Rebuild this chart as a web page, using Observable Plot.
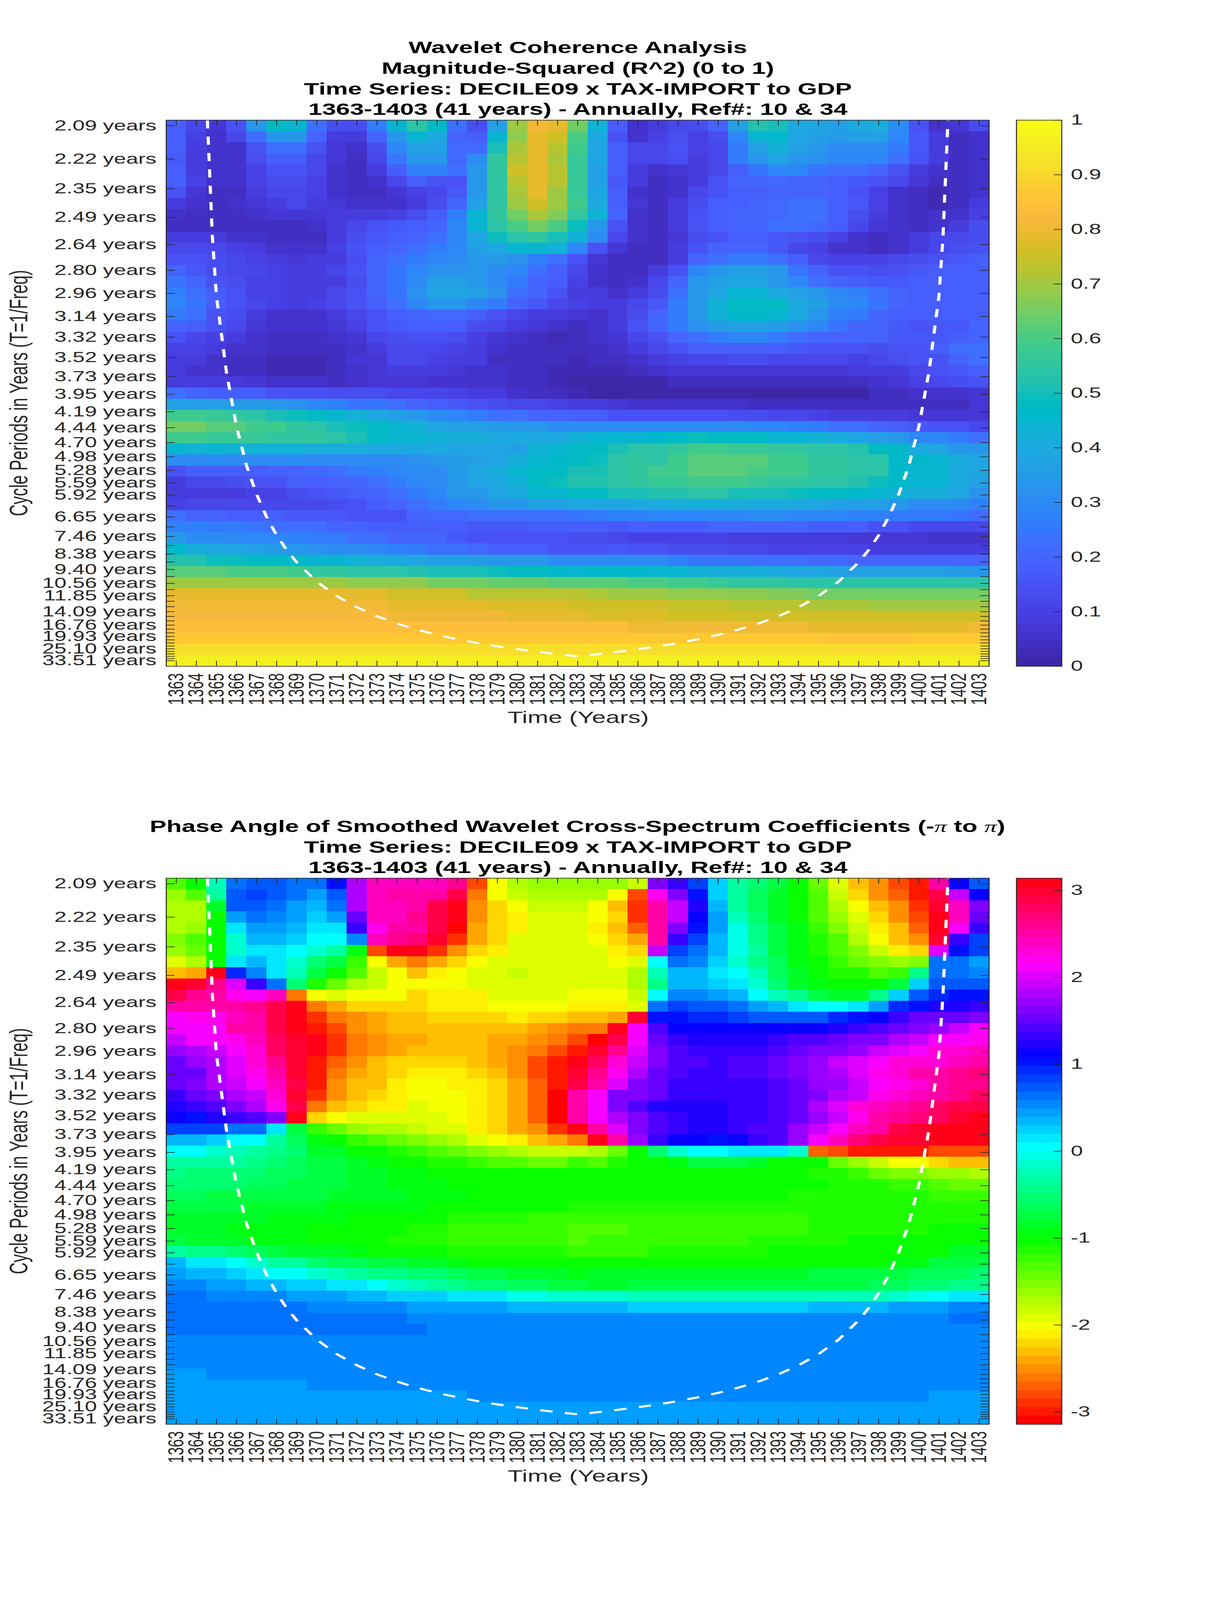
<!DOCTYPE html>
<html><head><meta charset="utf-8">
<script src="https://cdn.jsdelivr.net/npm/d3@7"></script>
<script src="https://cdn.jsdelivr.net/npm/@observablehq/plot@0.6"></script>
<style>
html,body{margin:0;background:#fff}
#c{position:relative;width:3125px;height:6252px;font-family:"Liberation Sans",Arial,sans-serif;color:#262626;overflow:hidden;background:#fff;transform-origin:0 0}
.t{position:absolute;white-space:nowrap;line-height:normal}
#c svg{position:absolute}
</style></head><body><div id="c"></div>
<script>
const years=[1363,1364,1365,1366,1367,1368,1369,1370,1371,1372,1373,1374,1375,1376,1377,1378,1379,1380,1381,1382,1383,1384,1385,1386,1387,1388,1389,1390,1391,1392,1393,1394,1395,1396,1397,1398,1399,1400,1401,1402,1403];
const periods=[2.09,2.22,2.35,2.49,2.64,2.80,2.96,3.14,3.32,3.52,3.73,3.95,4.19,4.44,4.70,4.98,5.28,5.59,5.92,6.27,6.65,7.04,7.46,7.91,8.38,8.88,9.40,9.96,10.56,11.18,11.85,12.55,13.30,14.09,14.93,15.82,16.76,17.75,18.81,19.93,21.11,22.37,23.70,25.10,26.60,28.18,29.85,31.63,33.51];
const labelledPeriods=[2.09,2.22,2.35,2.49,2.64,2.80,2.96,3.14,3.32,3.52,3.73,3.95,4.19,4.44,4.70,4.98,5.28,5.59,5.92,6.65,7.46,8.38,9.40,10.56,11.85,14.09,16.76,19.93,25.10,33.51];
const coiYears=[1364.55,1364.8,1365,1365.5,1366,1366.5,1367,1367.5,1368,1368.5,1369,1370,1371,1372,1373,1374,1375,1376,1377,1378,1379,1380,1381,1382,1383,1384,1385,1386,1387,1388,1389,1390,1391,1392,1393,1394,1395,1396,1397,1397.5,1398,1398.5,1399,1399.5,1400,1400.5,1401,1401.2,1401.45];
const coiPeriods=[2.07,2.6,2.98,3.68,4.42,5.17,5.9,6.65,7.4,8.15,8.9,10.4,11.9,13.4,14.9,16.4,17.9,19.4,20.9,22.4,23.9,25.3,26.8,28.3,29.8,28.3,26.8,25.3,23.9,22.4,20.9,19.4,17.9,16.4,14.9,13.4,11.9,10.4,8.9,8.15,7.4,6.65,5.9,5.17,4.42,3.68,2.98,2.6,2.07];
const coherence=[
[18,11,7,15,34,48,45,23,13,13,26,45,54,47,22,13,36,70,80,78,65,42,17,5,8,12,13,20,36,52,50,40,38,36,39,41,30,14,5,7,13],
[18,10,5,11,23,34,34,20,9,9,19,33,44,39,20,17,44,68,78,75,60,39,15,5,10,13,10,13,28,44,46,38,36,35,36,36,28,16,8,4,5],
[17,9,5,6,15,22,22,14,7,5,13,28,37,37,21,21,50,71,78,72,59,38,17,11,12,14,10,12,25,37,42,37,34,31,31,31,26,16,8,4,5],
[16,9,5,6,13,17,17,12,7,4,12,24,34,33,21,30,55,72,79,71,57,38,17,11,12,13,9,11,25,34,38,34,32,29,29,28,23,15,8,4,5],
[17,9,5,5,10,15,15,11,6,4,9,17,27,27,23,33,56,75,79,72,57,37,17,8,6,7,8,12,18,24,28,28,24,23,22,20,14,9,6,4,5],
[17,10,5,5,10,13,13,10,5,3,5,12,18,15,15,33,56,73,79,72,57,37,16,8,4,5,8,14,19,20,21,20,19,17,16,15,11,7,4,3,5],
[15,7,4,4,8,11,12,10,6,3,3,7,10,11,16,33,56,71,79,70,57,38,17,5,3,6,12,15,17,18,20,20,20,18,15,10,5,3,2,3,5],
[9,5,4,5,7,9,11,9,7,5,5,6,8,13,19,37,56,70,75,70,58,40,18,7,3,8,13,17,18,19,21,22,22,18,16,10,6,3,2,4,8],
[5,3,3,3,5,7,7,7,8,9,9,10,13,17,27,44,56,65,71,66,56,42,20,6,3,8,14,18,19,20,21,23,22,17,13,8,5,3,5,6,10],
[4,4,4,3,3,3,3,5,9,12,15,16,18,20,28,44,53,60,65,60,49,33,15,6,3,8,14,18,20,20,22,22,21,18,12,7,5,3,5,8,13],
[9,9,8,6,5,3,3,4,9,13,16,18,20,23,28,38,49,53,55,50,42,30,12,5,3,7,13,15,18,17,16,15,13,10,5,4,5,8,11,12,13],
[11,11,12,10,8,6,5,6,10,14,18,19,22,25,29,36,40,44,44,42,29,15,7,3,3,9,15,19,20,19,16,12,10,6,5,3,5,8,11,13,14],
[15,14,13,11,10,9,7,8,9,13,19,22,25,29,31,33,35,32,27,22,15,7,3,3,4,9,19,23,26,26,23,18,12,10,10,10,12,13,15,16,17],
[19,16,13,11,11,10,8,9,11,14,19,24,29,32,32,33,30,28,22,18,12,6,3,4,8,14,28,33,36,36,33,24,20,14,14,13,14,16,17,17,18],
[24,19,15,13,10,10,8,8,9,13,20,24,31,37,37,33,30,25,20,17,10,6,4,5,12,20,33,37,38,38,34,29,22,19,17,16,16,17,17,17,18],
[27,22,18,14,10,10,8,9,12,14,19,24,32,38,38,37,32,23,19,14,9,8,5,8,13,22,33,38,44,44,39,36,33,28,27,22,19,18,17,17,17],
[29,24,18,14,11,10,8,10,12,14,18,23,28,34,34,29,25,20,16,12,10,8,8,11,16,25,34,42,47,47,47,39,37,30,28,24,19,17,17,17,17],
[26,22,15,13,9,6,6,6,9,12,15,18,20,21,21,17,14,12,9,8,7,6,9,13,19,26,34,42,46,46,44,39,34,27,26,20,17,17,17,17,17],
[20,17,14,11,7,5,5,5,7,10,14,16,18,18,17,13,11,9,7,5,4,5,8,14,20,25,32,35,37,37,35,32,28,24,20,19,16,15,16,16,19],
[15,12,10,8,5,4,4,4,5,7,12,13,14,14,13,10,7,5,3,2,4,5,7,11,15,19,23,25,29,29,25,22,20,20,20,19,16,16,16,18,20],
[10,10,8,6,5,3,3,3,4,5,8,11,11,11,10,8,5,4,3,3,3,4,6,9,11,14,18,18,18,17,17,16,15,14,14,13,14,14,17,22,23],
[8,8,5,4,3,2,2,2,3,7,7,11,11,10,9,8,4,3,3,3,2,3,4,6,8,10,12,12,13,13,12,11,11,11,10,12,13,14,15,19,22],
[8,5,5,4,3,2,2,2,3,5,7,9,8,8,7,6,5,4,3,2,2,2,2,4,5,7,7,7,7,7,7,7,7,7,8,9,9,12,14,16,18],
[9,8,8,8,7,5,5,5,4,5,7,7,7,6,5,5,5,4,3,2,1,1,1,1,1,3,3,3,3,3,3,3,3,3,4,5,7,10,12,13,14],
[22,19,18,17,17,14,14,14,13,13,13,12,12,11,10,9,8,5,4,3,2,1,1,1,1,1,1,1,1,1,1,1,1,1,1,3,4,5,5,6,7],
[37,37,37,35,35,33,32,29,27,24,24,22,20,17,16,15,13,12,11,10,9,8,7,5,5,5,5,5,6,4,4,4,3,3,3,4,4,3,3,3,7],
[59,59,57,55,53,51,49,47,45,42,39,36,34,31,28,25,22,22,20,19,18,17,15,15,15,15,15,15,13,13,12,12,10,9,9,8,8,7,7,7,7],
[64,64,62,62,59,58,55,53,51,49,47,44,43,38,37,36,35,33,33,30,30,31,30,31,31,30,30,30,30,28,28,27,25,23,22,20,18,16,15,15,12],
[58,58,57,57,57,55,55,55,53,50,47,45,45,42,41,41,40,40,40,40,42,44,45,45,46,48,49,48,48,47,45,45,42,41,38,37,34,29,28,26,22],
[45,43,44,43,43,42,42,41,41,41,40,40,39,39,38,38,38,37,42,44,47,47,50,53,54,56,58,58,57,57,56,56,54,53,52,47,46,40,38,34,33],
[30,30,30,30,30,30,31,31,31,31,31,31,32,33,35,37,38,41,45,46,48,49,53,55,54,58,61,61,61,61,58,59,56,55,54,53,46,46,44,41,38],
[15,17,17,18,18,20,20,21,22,25,27,28,30,31,35,38,41,44,47,48,51,51,54,56,58,59,61,61,61,60,59,58,56,55,54,53,46,44,44,40,38],
[9,11,11,13,14,15,17,18,19,20,23,25,28,30,33,38,40,43,47,49,52,52,53,56,57,57,58,58,58,57,56,55,54,53,52,49,46,45,44,39,37],
[8,8,9,9,10,10,13,14,16,18,19,23,25,28,33,34,38,39,44,45,47,48,50,50,52,52,53,53,51,51,50,49,48,47,46,44,42,41,41,38,32],
[10,11,11,11,11,12,12,12,13,14,17,19,22,26,28,30,33,33,36,37,38,38,38,39,40,41,41,41,41,40,40,39,38,37,37,36,34,31,30,30,27],
[23,20,20,18,17,18,16,16,16,15,15,15,20,21,21,22,22,22,23,23,24,25,27,27,28,28,29,29,29,30,30,29,28,28,27,27,26,25,25,24,21],
[27,27,25,25,24,23,23,22,20,20,18,18,18,17,17,16,16,16,17,17,17,17,16,18,18,18,18,19,19,19,19,19,18,18,17,15,14,12,12,12,12],
[35,31,30,29,29,28,27,26,26,23,22,20,20,19,16,15,15,14,14,14,13,13,12,10,10,10,10,10,9,9,9,8,8,8,7,7,7,7,5,5,5],
[46,41,39,38,37,35,34,32,31,31,28,27,26,23,22,21,18,17,17,15,15,15,16,15,15,13,13,13,12,12,10,10,10,10,10,9,9,9,9,8,8],
[52,52,49,49,47,47,46,45,44,43,41,39,38,37,36,35,34,33,33,30,30,31,31,30,30,27,24,24,24,22,22,22,21,21,20,20,20,20,20,20,20],
[61,61,61,60,60,60,58,55,55,54,54,53,52,51,50,50,49,48,48,46,45,46,46,46,45,45,42,41,41,41,39,38,38,37,37,37,36,37,36,35,33],
[70,70,70,70,70,69,69,69,69,68,67,67,67,65,65,65,63,63,63,62,62,61,61,60,60,58,58,57,56,56,55,54,54,53,53,53,53,53,53,53,53],
[78,78,78,78,78,78,78,78,78,78,78,75,75,75,75,73,73,73,72,72,72,71,70,70,70,68,68,68,67,67,66,66,65,65,65,65,65,65,65,65,65],
[81,81,81,81,81,81,81,81,81,81,81,79,79,79,79,79,77,77,77,77,75,75,75,75,75,74,74,74,73,73,73,72,71,71,71,70,70,70,70,70,70],
[82,82,82,82,82,82,82,82,82,82,82,80,80,80,80,80,80,78,78,78,78,77,77,77,77,76,76,76,76,76,76,75,75,75,75,75,75,75,75,75,75],
[84,84,84,84,84,84,84,84,84,84,84,84,84,84,84,84,84,84,83,83,83,83,83,80,80,80,80,80,80,80,80,80,79,79,79,79,79,79,79,79,81],
[86,86,86,86,86,86,86,86,86,86,86,86,86,86,86,86,86,86,86,86,86,86,86,86,86,86,86,86,86,86,86,86,86,85,85,85,85,86,86,86,86],
[91,91,91,91,91,91,91,91,91,91,91,91,91,91,91,91,91,91,91,91,91,91,91,91,91,91,91,91,91,91,91,91,91,91,91,91,91,91,91,91,91],
[96,96,96,96,96,96,96,96,96,96,96,96,96,96,96,96,96,96,96,96,96,96,96,96,96,96,96,96,96,96,96,96,96,96,96,96,96,96,96,96,96]
];
const phase=[
[-1.3,-1.05,-.2,.6,.7,.7,.6,.6,1,1.8,2.4,2.4,2.4,2.4,2.6,-2.8,-2,-1.75,-1.65,-1.65,-1.6,-1.6,-1.6,-1.85,1.65,1.3,.8,.2,-.3,-.55,-.75,-1.05,-1.45,-1.9,-2.3,-2.5,-2.75,-3,2.5,1.1,.75],
[-1.6,-1.35,-.3,.7,.85,.7,.6,.4,.75,1.8,2.4,2.55,2.55,2.55,2.85,-2.6,-2.05,-1.85,-1.7,-1.7,-1.7,-1.7,-2,-2.8,2.2,1.65,1.05,.2,-.3,-.6,-.85,-1,-1.35,-1.85,-2.2,-2.5,-2.7,-3,2.85,1.9,1.15],
[-1.75,-1.7,-.8,.7,.7,.6,.45,.35,.6,1.8,2.4,2.4,2.55,2.85,3.1,-2.5,-2.2,-2,-1.8,-1.8,-1.85,-2,-2.3,-2.9,2.55,1.9,1.25,.35,-.3,-.6,-.85,-1,-1.35,-1.7,-2.05,-2.35,-2.5,-2.85,3,2.4,1.6],
[-1.7,-1.7,-1,.4,.65,.55,.4,.25,.4,1.55,2.4,2.45,2.6,2.85,3.14,-2.5,-2.2,-2.1,-1.95,-1.95,-1.95,-2.05,-2.25,-2.9,2.55,1.9,1.1,.4,-.2,-.55,-.85,-1.05,-1.3,-1.6,-1.95,-2.25,-2.5,-2.8,3.05,2.45,1.55],
[-1.7,-1.65,-1.05,.1,.4,.4,.3,.15,.15,1.35,2.2,2.5,2.55,2.9,-3.05,-2.45,-2.25,-2.1,-1.95,-1.95,-1.95,-2.1,-2.3,-2.7,2.55,1.65,1.05,.4,-.05,-.4,-.75,-.95,-1.2,-1.5,-1.85,-2.15,-2.35,-2.7,3.1,2.1,1.35],
[-1.55,-1.35,-1.05,-.1,.3,.3,.2,.05,0,.55,2.45,2.6,2.7,3,-2.85,-2.4,-2.2,-1.95,-1.95,-1.95,-1.95,-2,-2.2,-2.45,2.55,1.3,.85,.3,-.05,-.4,-.7,-.9,-1.1,-1.35,-1.7,-2,-2.3,-2.5,3,1.3,.85],
[-1.6,-1.4,-1,-.1,.15,.15,0,-.1,-.35,-.9,-2.75,3.05,3.05,-2.9,-2.5,-2.2,-2.1,-1.95,-1.95,-1.95,-1.95,-1.95,-2.1,-2.2,1.9,.85,.65,.35,-.05,-.35,-.7,-.95,-1.1,-1.3,-1.55,-1.85,-2.1,-2.25,2,1.05,.8],
[-1.9,-1.7,-1.05,.1,.35,.15,-.1,-.5,-.75,-1.2,-2,-2.45,-2.6,-2.45,-2.25,-2.05,-1.95,-1.95,-1.95,-1.95,-1.95,-1.95,-2,-1.95,0,.6,.5,.2,-.1,-.4,-.65,-.9,-1.05,-1.25,-1.4,-1.55,-1.65,-1.5,.6,.6,.45],
[-2.35,-2.45,3.14,.9,.5,.15,-.25,-.75,-1.05,-1.35,-1.85,-2.05,-2.3,-2.15,-2.05,-1.95,-1.95,-1.85,-1.95,-1.95,-1.95,-1.95,-1.95,-1.75,-.2,.35,.35,.15,0,-.25,-.6,-.85,-1,-1.15,-1.15,-1.3,-1.2,-.45,.6,.6,.5],
[3.14,2.95,2.6,2,1.35,.6,-.55,-1.15,-1.4,-1.7,-1.85,-2.05,-2.05,-2.05,-2.05,-1.95,-1.95,-1.95,-1.95,-1.95,-1.95,-1.95,-1.95,-1.75,-.4,.35,.35,.25,.1,-.15,-.5,-.8,-.95,-1.05,-1.05,-1.05,-.75,.25,.7,.75,.7],
[2.85,2.6,2.55,2.2,2.1,2.4,-2.65,-2.05,-1.9,-2.05,-2.05,-2.05,-2.2,-2.1,-2.1,-2.1,-1.95,-1.95,-1.95,-1.95,-2.05,-2.05,-2.05,-1.85,0,.5,.5,.4,.3,0,-.25,-.45,-.7,-.85,-.85,-.4,.2,.7,.9,1.05,1.05],
[2.55,2.55,2.55,2.55,2.6,2.85,3.14,-2.6,-2.4,-2.25,-2.25,-2.25,-2.25,-2.15,-2.15,-2.15,-2.05,-2.05,-2.05,-2.05,-2.15,-2.15,-2.15,-1.95,.6,.85,.75,.75,.6,.4,.3,.1,0,0,.15,.45,.95,1.05,1.2,1.25,1.35],
[2.15,2.2,2.2,2.45,2.55,2.85,3.1,-2.85,-2.6,-2.5,-2.4,-2.3,-2.3,-2.2,-2.2,-2.2,-2.2,-2.15,-2.25,-2.25,-2.35,-2.3,-2.4,3,1.05,1,.95,.95,.85,.75,.7,.7,.75,.9,1.05,1.15,1.3,1.5,1.5,1.55,1.6],
[2.1,2.15,2.15,2.5,2.55,2.85,3.05,-3,-2.8,-2.5,-2.45,-2.35,-2.35,-2.35,-2.35,-2.35,-2.35,-2.35,-2.45,-2.55,-2.65,-2.65,3.14,2.15,1.4,1.15,1.1,1.1,1.1,1.1,1.1,1.1,1.1,1.2,1.3,1.4,1.5,1.6,1.75,1.9,2.1],
[1.95,2.1,2.15,2.25,2.4,2.75,3,3.14,-2.85,-2.6,-2.5,-2.4,-2.4,-2.35,-2.35,-2.35,-2.4,-2.45,-2.5,-2.6,-2.8,-3.05,2.85,2.1,1.55,1.35,1.25,1.25,1.25,1.25,1.35,1.4,1.4,1.5,1.6,1.6,1.8,1.9,2.1,2.1,2.2],
[1.75,1.8,1.95,2.15,2.3,2.75,3,3.1,-2.85,-2.65,-2.5,-2.4,-2.3,-2.3,-2.3,-2.3,-2.4,-2.5,-2.65,-2.8,-3,3,2.6,2,1.6,1.45,1.35,1.35,1.35,1.35,1.45,1.55,1.6,1.65,1.75,1.9,2,2.15,2.3,2.3,2.45],
[1.55,1.7,1.85,2,2.3,2.6,2.95,-3,-2.7,-2.5,-2.35,-2.25,-2.2,-2.2,-2.2,-2.35,-2.45,-2.55,-2.8,-2.95,3.05,2.75,2.3,1.9,1.65,1.4,1.4,1.3,1.4,1.4,1.55,1.65,1.75,1.9,2,2.1,2.3,2.35,2.35,2.45,2.5],
[1.55,1.55,1.8,2,2.2,2.5,2.95,-3,-2.65,-2.4,-2.3,-2.2,-2.1,-2.1,-2.15,-2.25,-2.35,-2.5,-2.75,-3,2.95,2.6,2.2,1.85,1.55,1.4,1.35,1.35,1.4,1.4,1.55,1.6,1.7,1.85,2,2.2,2.35,2.5,2.5,2.6,2.7],
[1.55,1.6,1.8,1.9,2.1,2.45,2.9,-2.95,-2.55,-2.35,-2.3,-2.15,-2.05,-2.05,-2.15,-2.15,-2.25,-2.45,-2.7,-2.95,2.9,2.5,2,1.6,1.5,1.35,1.35,1.35,1.35,1.35,1.45,1.55,1.7,1.75,1.9,2.1,2.25,2.35,2.5,2.6,2.65],
[1.35,1.5,1.65,1.8,1.95,2.3,2.95,-2.85,-2.5,-2.3,-2.2,-2.1,-2.05,-2.05,-2.05,-2.15,-2.25,-2.45,-2.7,-3.1,2.55,2.15,1.65,1.6,1.5,1.35,1.35,1.35,1.35,1.35,1.45,1.55,1.6,1.8,1.95,2.2,2.35,2.45,2.55,2.6,2.75],
[1.25,1.35,1.45,1.65,1.85,2.2,2.9,-2.65,-2.35,-2.25,-2.1,-2.1,-1.95,-2.05,-2.05,-2.15,-2.25,-2.45,-2.7,-3.05,2.55,2.1,1.65,1.4,1.25,1.25,1.2,1.2,1.35,1.35,1.45,1.5,1.8,2,2.3,2.45,2.5,2.6,2.75,2.85,2.9],
[1.1,1.05,1.2,1.3,1.4,1.6,3.14,-2.2,-2.05,-1.95,-1.95,-1.95,-1.95,-1.95,-2,-2.1,-2.25,-2.45,-2.7,-3.14,2.55,2.15,1.85,1.6,1.45,1.3,1.2,1.2,1.3,1.3,1.4,1.55,1.75,1.9,2.2,2.5,2.6,2.7,2.8,2.95,3.05],
[.8,.85,.8,.65,.6,.15,-.7,-1.25,-1.4,-1.65,-1.7,-1.7,-1.8,-1.9,-1.95,-2.1,-2.2,-2.4,-2.55,-2.85,3.05,2.5,2,1.65,1.45,1.3,1.25,1.25,1.3,1.4,1.45,1.7,1.9,2.15,2.45,2.55,2.85,2.95,3.05,3.05,3.05],
[.35,.35,.2,.05,0,-.35,-.65,-.95,-1.05,-1.2,-1.35,-1.4,-1.5,-1.6,-1.75,-1.9,-2,-2.1,-2.3,-2.4,-2.6,3.14,2.5,1.7,1.35,1.15,1.15,1.05,1.15,1.3,1.4,1.7,2.1,2.4,2.7,2.9,3,3,3.1,3.1,3.14],
[0,0,-.1,-.25,-.35,-.45,-.55,-.8,-.85,-1,-1.05,-1.15,-1.2,-1.35,-1.4,-1.5,-1.65,-1.7,-1.8,-1.85,-1.8,-1.7,-1.45,-1.05,-.55,-.15,0,0,.1,.1,.1,-.1,-2.7,-2.8,-2.95,-2.95,-2.95,-2.95,-2.8,-2.8,-2.8],
[-.3,-.3,-.35,-.35,-.45,-.5,-.6,-.7,-.75,-.85,-.9,-1.05,-1,-1.15,-1.15,-1.25,-1.3,-1.35,-1.4,-1.4,-1.25,-1.3,-1.15,-1.05,-1,-.9,-.7,-.7,-.7,-.8,-1,-1,-1.05,-1.4,-1.6,-1.8,-2,-2.05,-2.2,-2.3,-2.3],
[-.45,-.5,-.5,-.5,-.55,-.6,-.65,-.7,-.75,-.8,-.85,-.9,-.95,-1,-1.05,-1.05,-1.05,-1.05,-1.05,-1.05,-1.05,-1.05,-1.05,-1.05,-1.05,-1.05,-1.05,-1.05,-1.05,-1.05,-1.05,-1.05,-1.15,-1.15,-1.25,-1.4,-1.5,-1.5,-1.6,-1.6,-1.7],
[-.5,-.55,-.55,-.55,-.6,-.65,-.7,-.7,-.75,-.8,-.85,-.9,-.95,-.95,-1,-1.05,-1.05,-1.05,-1.05,-1.05,-1.05,-1.05,-1.05,-1.05,-1.05,-1.05,-1.05,-1.05,-1.05,-1.05,-1.05,-1.05,-1.05,-1.1,-1.1,-1.1,-1.2,-1.25,-1.3,-1.4,-1.4],
[-.65,-.65,-.7,-.7,-.7,-.7,-.75,-.75,-.8,-.8,-.85,-.85,-.9,-.95,-.95,-1,-1,-1.05,-1.05,-1.05,-1.05,-1.05,-1.05,-1.05,-1.05,-1.05,-1.05,-1.05,-1.05,-1.05,-1.05,-1.15,-1.15,-1.15,-1.15,-1.15,-1.15,-1.15,-1.2,-1.25,-1.25],
[-.75,-.75,-.75,-.75,-.8,-.8,-.85,-.85,-.9,-.9,-.9,-.95,-.95,-1,-1,-1.05,-1.05,-1.05,-1.05,-1.05,-1.1,-1.15,-1.15,-1.15,-1.15,-1.15,-1.15,-1.15,-1.15,-1.15,-1.15,-1.15,-1.15,-1.15,-1.15,-1.15,-1.15,-1.15,-1.15,-1.15,-1.15],
[-.8,-.85,-.85,-.85,-.85,-.9,-.9,-.9,-.95,-1,-1,-1.05,-1.05,-1.05,-1.1,-1.15,-1.15,-1.15,-1.2,-1.2,-1.2,-1.25,-1.25,-1.25,-1.25,-1.25,-1.25,-1.25,-1.25,-1.25,-1.25,-1.25,-1.15,-1.15,-1.15,-1.15,-1.15,-1.15,-1.15,-1.15,-1.15],
[-.8,-.85,-.85,-.9,-.9,-.95,-.95,-1,-1,-1.05,-1.05,-1.05,-1.15,-1.15,-1.2,-1.2,-1.2,-1.2,-1.2,-1.2,-1.3,-1.35,-1.35,-1.25,-1.25,-1.25,-1.25,-1.25,-1.25,-1.25,-1.25,-1.25,-1.15,-1.15,-1.15,-1.15,-1.15,-1.15,-1.05,-1.05,-1.05],
[-.75,-.8,-.8,-.85,-.9,-.95,-.95,-1,-1,-1,-1.05,-1.15,-1.15,-1.15,-1.2,-1.2,-1.2,-1.2,-1.2,-1.2,-1.3,-1.25,-1.25,-1.25,-1.25,-1.25,-1.25,-1.25,-1.25,-1.15,-1.15,-1.15,-1.15,-1.15,-1.05,-1.05,-1.05,-1.05,-1.05,-1.05,-1.05],
[-.3,-.4,-.45,-.55,-.65,-.75,-.8,-.8,-.85,-.9,-1,-1,-1.05,-1.05,-1.15,-1.15,-1.15,-1.15,-1.15,-1.15,-1.2,-1.2,-1.2,-1.2,-1.15,-1.15,-1.15,-1.15,-1.15,-1.15,-1.05,-1.05,-1.05,-1.05,-1.05,-1.05,-1.05,-1.05,-1,-.85,-.85],
[.3,.15,.1,0,-.15,-.3,-.35,-.5,-.6,-.6,-.7,-.75,-.8,-.85,-.95,-1,-1.05,-1.05,-1.05,-1.05,-1.05,-1.05,-1.05,-1.05,-1.05,-1.05,-1.05,-1.05,-1.05,-1.05,-1.05,-1.05,-1.05,-1.05,-1,-1,-.95,-.9,-.75,-.75,-.75],
[.45,.35,.3,.2,.15,.05,0,-.1,-.25,-.35,-.4,-.45,-.5,-.55,-.65,-.7,-.75,-.8,-.85,-.85,-.9,-.85,-.85,-.85,-.85,-.85,-.8,-.8,-.8,-.8,-.8,-.8,-.75,-.75,-.75,-.75,-.75,-.6,-.6,-.6,-.5],
[.54,.54,.44,.44,.3,.3,.2,.2,.1,.1,0,-.1,-.2,-.3,-.4,-.5,-.55,-.6,-.65,-.7,-.75,-.8,-.8,-.75,-.75,-.75,-.75,-.75,-.75,-.75,-.75,-.75,-.75,-.75,-.75,-.6,-.6,-.55,-.5,-.4,-.4],
[.64,.64,.54,.54,.54,.54,.44,.44,.44,.3,.3,.2,.2,.2,.1,.1,.1,-.02,-.05,-.1,-.15,-.1,-.1,-.2,-.2,-.2,-.2,-.2,-.2,-.2,-.2,-.2,-.2,-.2,-.2,-.2,-.1,-.05,0,.1,.1],
[.64,.64,.64,.64,.64,.64,.64,.54,.54,.54,.54,.54,.44,.44,.44,.44,.44,.35,.35,.35,.35,.35,.35,.2,.2,.2,.2,.2,.2,.2,.2,.2,.3,.3,.3,.3,.44,.44,.44,.54,.54],
[.64,.64,.64,.64,.64,.64,.64,.64,.64,.64,.64,.64,.54,.54,.54,.54,.54,.54,.54,.54,.54,.54,.54,.54,.54,.54,.54,.54,.54,.54,.54,.54,.54,.54,.54,.54,.54,.54,.54,.64,.64],
[.64,.64,.64,.64,.64,.64,.64,.64,.64,.64,.64,.64,.64,.54,.54,.54,.54,.54,.54,.54,.54,.54,.54,.54,.54,.54,.54,.54,.54,.54,.54,.54,.54,.54,.54,.54,.54,.54,.54,.54,.54],
[.54,.54,.54,.54,.54,.54,.54,.54,.54,.54,.54,.54,.54,.54,.54,.54,.54,.54,.54,.54,.54,.54,.54,.54,.54,.54,.54,.54,.54,.54,.54,.54,.54,.54,.54,.54,.54,.54,.54,.54,.54],
[.54,.54,.54,.54,.54,.54,.54,.54,.54,.54,.54,.54,.54,.54,.54,.54,.54,.54,.54,.54,.54,.54,.54,.54,.54,.54,.54,.54,.54,.54,.54,.54,.54,.54,.54,.54,.54,.54,.54,.54,.54],
[.54,.54,.54,.54,.54,.54,.54,.54,.54,.54,.54,.54,.54,.54,.54,.54,.54,.54,.54,.54,.54,.54,.54,.54,.54,.54,.54,.54,.54,.54,.54,.54,.54,.54,.54,.54,.54,.54,.54,.54,.54],
[.44,.44,.54,.54,.54,.54,.54,.54,.54,.54,.54,.54,.54,.54,.54,.54,.54,.54,.54,.54,.54,.54,.54,.54,.54,.54,.54,.54,.54,.54,.54,.54,.54,.54,.54,.54,.54,.54,.54,.54,.54],
[.44,.44,.44,.44,.44,.44,.44,.54,.54,.54,.54,.54,.54,.54,.54,.54,.54,.54,.54,.54,.54,.54,.54,.54,.54,.54,.54,.54,.54,.54,.54,.54,.54,.54,.54,.54,.54,.54,.54,.54,.54],
[.44,.44,.44,.44,.44,.44,.44,.44,.44,.44,.44,.44,.44,.44,.44,.54,.54,.54,.54,.54,.54,.54,.54,.54,.54,.54,.54,.54,.54,.54,.54,.54,.54,.54,.54,.54,.54,.54,.44,.44,.44],
[.44,.44,.44,.44,.44,.44,.44,.44,.44,.44,.44,.44,.44,.44,.44,.44,.44,.44,.44,.44,.44,.44,.44,.44,.44,.44,.44,.44,.44,.44,.44,.44,.44,.44,.44,.44,.44,.44,.44,.44,.44],
[.44,.44,.44,.44,.44,.44,.44,.44,.44,.44,.44,.44,.44,.44,.44,.44,.44,.44,.44,.44,.44,.44,.44,.44,.44,.44,.44,.44,.44,.44,.44,.44,.44,.44,.44,.44,.44,.44,.44,.44,.44]
];
const parulaRGB=[[.2422,.1504,.6603],[.2504,.1650,.7076],[.2578,.1818,.7511],[.2647,.1978,.7952],[.2706,.2147,.8364],[.2751,.2342,.8710],[.2783,.2559,.8991],[.2803,.2782,.9221],[.2813,.3006,.9414],[.2810,.3228,.9579],[.2795,.3447,.9717],[.2760,.3667,.9829],[.2699,.3892,.9906],[.2602,.4123,.9952],[.2440,.4358,.9988],[.2206,.4603,.9973],[.1963,.4847,.9892],[.1834,.5074,.9798],[.1786,.5289,.9682],[.1764,.5499,.9520],[.1687,.5703,.9359],[.1540,.5902,.9218],[.1460,.6091,.9079],[.1380,.6276,.8973],[.1248,.6459,.8883],[.1113,.6635,.8763],[.0952,.6798,.8598],[.0689,.6948,.8394],[.0297,.7082,.8163],[.0036,.7203,.7917],[.0067,.7312,.7660],[.0433,.7411,.7394],[.0964,.7500,.7120],[.1408,.7584,.6842],[.1717,.7670,.6554],[.1938,.7758,.6251],[.2161,.7843,.5923],[.2470,.7918,.5567],[.2906,.7973,.5188],[.3406,.8008,.4789],[.3909,.8029,.4354],[.4456,.8024,.3909],[.5044,.7993,.3480],[.5616,.7942,.3045],[.6174,.7876,.2612],[.6720,.7793,.2227],[.7242,.7698,.1910],[.7738,.7598,.1646],[.8203,.7498,.1535],[.8634,.7406,.1596],[.9035,.7330,.1774],[.9393,.7288,.2100],[.9728,.7298,.2394],[.9956,.7434,.2371],[.9970,.7659,.2199],[.9952,.7861,.1999],[.9892,.8134,.1885],[.9786,.8422,.1766],[.9676,.8689,.1643],[.9610,.8890,.1537],[.9597,.9135,.1423],[.9628,.9373,.1265],[.9691,.9606,.1064],[.9769,.9839,.0805]];
const parula=parulaRGB.map(([r,g,b])=>`rgb(${Math.round(r*255)},${Math.round(g*255)},${Math.round(b*255)})`);
const hsv64=d3.range(64).map(i=>d3.hsl(i/64*360,1,.5).formatRgb());
const cohTicks=[0,.1,.2,.3,.4,.5,.6,.7,.8,.9,1];
const phaseTicks=[-3,-2,-1,0,1,2,3];

const INK="#262626", FONT='"Liberation Sans",Arial,sans-serif';
const root=document.getElementById("c");
const AX={l:425,r:2531,w:2106,h:2134};
function put(svg,left,top){svg.style.left=left+"px";svg.style.top=top+"px";root.appendChild(svg);}
function txt(html,x,base,size,o={}){
  const d=document.createElement("div");d.className="t";d.innerHTML=html;
  d.style.cssText+=`left:${x}px;top:${base-.92*size}px;font-size:${size}px;font-weight:${o.bold?"bold":"normal"};color:${o.bold?"#000":INK};transform:translateX(-50%)`;
  root.appendChild(d);
}
function ylab(s,x,y,size){
  const d=document.createElement("div");d.className="t";d.textContent=s;
  d.style.cssText+=`left:${x}px;top:${y}px;font-size:${size}px;transform:translate(-50%,-50%) rotate(-90deg)`;
  root.appendChild(d);
}
const freqs=periods.map(p=>1/p);
const df=(freqs[0]-freqs[48])/48;
const yDom=[freqs[48]-df/2,freqs[0]+df/2];
const perPx=(yDom[1]-yDom[0])/AX.h, yrPx=41/AX.w;
function panel(matrix,scaleVal,colorOpt,top){
  const cells=matrix.flatMap((row,i)=>row.map((v,j)=>({x1:years[j]-.5,x2:years[j]+.5,y1:freqs[0]-(i+.5)*df,y2:freqs[0]-(i-.5)*df,v:scaleVal(v)})));
  const labelMap=new Map(labelledPeriods.map(p=>[1/p,p.toFixed(2)+" years"]));
  const coi=coiYears.map((y,i)=>({y,f:1/coiPeriods[i]}));
  const svg=Plot.plot({width:2600,height:10+AX.h+240,marginLeft:AX.l,marginRight:2600-AX.r,marginTop:10,marginBottom:240,
    style:{background:"none",color:INK,fontFamily:FONT,overflow:"visible"},
    x:{domain:[1362.5,1403.5],axis:null},y:{domain:yDom,axis:null},color:colorOpt,
    marks:[
      Plot.rect(cells,{x1:"x1",x2:"x2",y1:"y1",y2:"y2",fill:"v",shapeRendering:"crispEdges"}),
      Plot.line(coi,{x:"y",y:"f",stroke:"white",strokeWidth:8,strokeDasharray:"32 32",curve:"linear",strokeLinecap:"butt"}),
      Plot.ruleY(freqs,{x1:1362.5,x2:1362.5+22*yrPx,stroke:INK,strokeWidth:2.5}),
      Plot.ruleY(freqs,{x1:1403.5-22*yrPx,x2:1403.5,stroke:INK,strokeWidth:2.5}),
      Plot.ruleX(years,{y1:yDom[0],y2:yDom[0]+21*perPx,stroke:INK,strokeWidth:2}),
      Plot.ruleX(years,{y1:yDom[1]-21*perPx,y2:yDom[1],stroke:INK,strokeWidth:2}),
      Plot.frame({stroke:INK,strokeWidth:2.5}),
      Plot.axisY({anchor:"left",ticks:[...labelMap.keys()],tickFormat:f=>labelMap.get(f),tickSize:0,tickPadding:25,fontSize:56,label:null,fontVariant:"normal"}),
      Plot.axisX({anchor:"bottom",ticks:years,tickRotate:-90,tickSize:0,tickPadding:27,tickFormat:d=>String(d),fontSize:56,label:null,fontVariant:"normal"})
    ]});
  put(svg,0,top-10);
}
function colorbar(domain,ticks,colorOpt,top){
  const levels=d3.range(64).map(i=>({y1:domain[0]+(domain[1]-domain[0])*i/64,y2:domain[0]+(domain[1]-domain[0])*(i+1)/64,v:domain[0]+(domain[1]-domain[0])*(i+.5)/64}));
  const svg=Plot.plot({width:10+116+150,height:10+AX.h+60,marginLeft:10,marginRight:150,marginTop:10,marginBottom:60,
    style:{background:"none",color:INK,fontFamily:FONT,overflow:"visible"},
    x:{domain:[0,1],axis:null},y:{domain,axis:null},color:colorOpt,
    marks:[
      Plot.rect(levels,{x1:0,x2:1,y1:"y1",y2:"y2",fill:"v",shapeRendering:"crispEdges"}),
      Plot.ruleY(ticks,{x1:.83,x2:1,stroke:INK,strokeWidth:2.5}),
      Plot.frame({stroke:INK,strokeWidth:2.5}),
      Plot.axisY({anchor:"right",ticks,tickSize:0,tickPadding:23,tickFormat:d=>String(d),fontSize:56,label:null,fontVariant:"normal"})
    ]});
  put(svg,2591,top-10);
}
const cohColor={type:"quantize",domain:[0,1],range:parula};
const phColor={type:"quantize",domain:[-Math.PI,Math.PI],range:hsv64};
const top1=469, top2=3431;
panel(coherence,v=>v/100+.002,cohColor,top1);
colorbar([0,1],cohTicks,cohColor,top1);
panel(phase,v=>v,phColor,top2);
colorbar([-Math.PI,Math.PI],phaseTicks,phColor,top2);
const pi='<span style="font-family:\'Liberation Serif\',serif;font-style:italic;font-weight:normal">&pi;</span>';
txt("Wavelet Coherence Analysis",1479,207,64,{bold:true});
txt("Magnitude-Squared (R^2) (0 to 1)",1479,288,64,{bold:true});
txt("Time Series: DECILE09 x TAX-IMPORT to GDP",1479,369,64,{bold:true});
txt("1363-1403 (41 years) - Annually, Ref#: 10 &amp; 34",1479,449,64,{bold:true});
txt(`Phase Angle of Smoothed Wavelet Cross-Spectrum Coefficients (-${pi} to ${pi})`,1478,3251,64,{bold:true});
txt("Time Series: DECILE09 x TAX-IMPORT to GDP",1479,3332,64,{bold:true});
txt("1363-1403 (41 years) - Annually, Ref#: 10 &amp; 34",1479,3412,64,{bold:true});
txt("Time (Years)",1480,2825,64);
txt("Time (Years)",1480,5789,64);
ylab("Cycle Periods in Years (T=1/Freq)",48,1536,64);
ylab("Cycle Periods in Years (T=1/Freq)",48,4498,64);
// True scale in a 3125x6252 window; in a shorter window, fit the whole page so nothing is cut off.
if(innerHeight<6252){
  root.style.transform=`scale(${innerWidth/3125},${innerHeight/6252})`;
  document.documentElement.style.height=document.body.style.height=innerHeight+"px";
  document.documentElement.style.overflow=document.body.style.overflow="hidden";
}
</script></body></html>
